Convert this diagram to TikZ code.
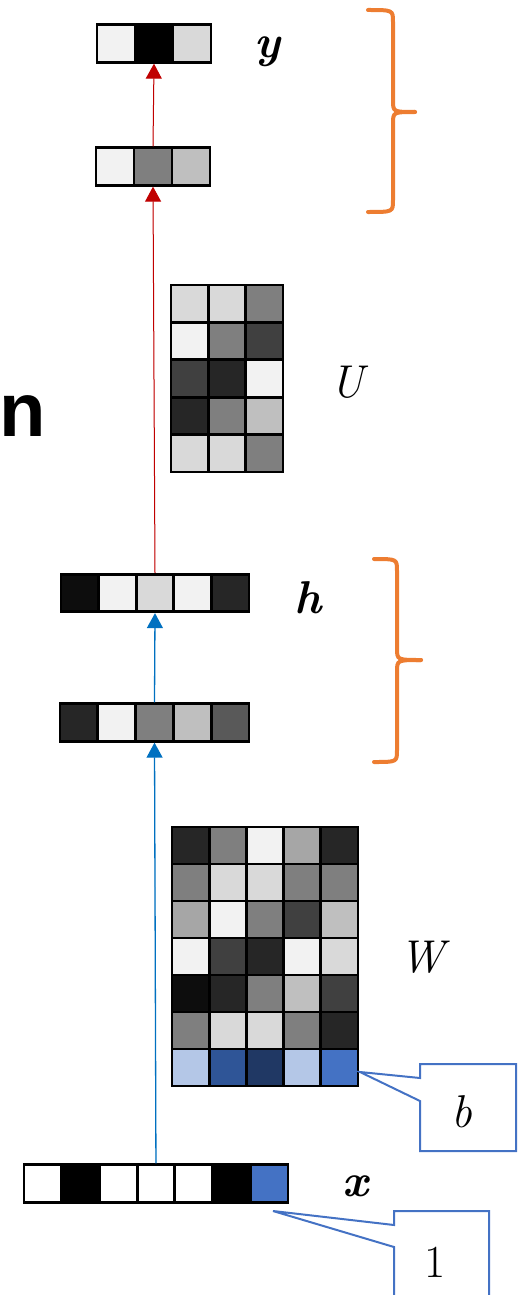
\documentclass[tikz,border=0pt]{standalone}
\usepackage{fontspec}
\newfontfamily\headfont{Liberation Sans}
\usetikzlibrary{arrows.meta}

% grey levels and blue shades of the cells
\definecolor{c0}{HTML}{FFFFFF}
\definecolor{c1}{HTML}{F2F2F2}
\definecolor{c2}{HTML}{D9D9D9}
\definecolor{c3}{HTML}{BFBFBF}
\definecolor{c4}{HTML}{A6A6A6}
\definecolor{c5}{HTML}{7F7F7F}
\definecolor{c6}{HTML}{595959}
\definecolor{c7}{HTML}{404040}
\definecolor{c8}{HTML}{262626}
\definecolor{c9}{HTML}{0D0D0D}
\definecolor{cK}{HTML}{000000}
\definecolor{bA}{HTML}{B4C7E7}
\definecolor{bB}{HTML}{2F5597}
\definecolor{bC}{HTML}{203864}
\definecolor{bD}{HTML}{4472C4}
\definecolor{fwdred}{HTML}{C00000}
\definecolor{fwdblue}{HTML}{0070C0}
\definecolor{braceorange}{HTML}{ED7D31}
\definecolor{calloutblue}{HTML}{4472C4}

\begin{document}
\begin{tikzpicture}[x=1pt,y=-1pt,
  cell/.style={draw=black,line width=2.8pt,inner sep=0pt,minimum width=#1,minimum height=37.5pt},
  cell/.default=37.5pt,
  lbl/.style={inner sep=0pt,font=\fontsize{46}{52}\selectfont\itshape},
  vlbl/.style={lbl,font=\fontsize{46}{52}\selectfont\bfseries\itshape},
  redarrow/.style={draw=fwdred,line width=1pt,-{Triangle[width=16pt,length=15pt]},fill=fwdred},
  bluearrow/.style={draw=fwdblue,line width=1.3pt,-{Triangle[width=16pt,length=15pt]},fill=fwdblue},
  brace/.style={draw=braceorange,line width=4pt,line cap=round},
  callout/.style={draw=calloutblue,line width=2pt,line join=miter}]

\clip (0,0) rectangle (521,1295);

% output vector y
\foreach \c [count=\i] in {c1,cK,c2}
  \node[cell=38pt,fill=\c] (y-\i) at ({97+38*(\i-0.5)},43.5) {};
\node[vlbl] (ylbl) at (267,52) {y};

% output pre-activation
\foreach \c [count=\i] in {c1,c5,c3}
  \node[cell=38pt,fill=\c] (o-\i) at ({96+38*(\i-0.5)},166.5) {};

% matrix U
\foreach \row [count=\r] in {{c2,c2,c5},{c1,c5,c7},{c7,c8,c1},{c8,c5,c3},{c2,c2,c5}}
  \foreach \c [count=\k] in \row
    \node[cell=37.3pt,minimum height=37.4pt,fill=\c] (U-\r-\k) at ({171+37.3*(\k-0.5)},{285+37.4*(\r-0.5)}) {};
\node[lbl] (Ulbl) at (347,382) {U};

% hidden vector h
\foreach \c [count=\i] in {c9,c1,c2,c1,c8}
  \node[cell=37.6pt,fill=\c] (h-\i) at ({61+37.6*(\i-0.5)},593) {};
\node[vlbl] (hlbl) at (308,598) {h};

% hidden pre-activation
\foreach \c [count=\i] in {c8,c1,c5,c3,c6}
  \node[cell=37.8pt,fill=\c] (a-\i) at ({60+37.8*(\i-0.5)},722.5) {};

% matrix W with bias row
\foreach \row [count=\r] in {{c8,c5,c1,c4,c8},{c5,c2,c2,c5,c5},{c4,c1,c5,c7,c3},{c1,c7,c8,c1,c2},{c9,c8,c5,c3,c7},{c5,c2,c2,c5,c8},{bA,bB,bC,bA,bD}}
  \foreach \c [count=\k] in \row
    \node[cell=37.2pt,minimum height=37pt,fill=\c] (W-\r-\k) at ({172+37.2*(\k-0.5)},{827+37*(\r-0.5)}) {};
\node[lbl] (Wlbl) at (422,957) {W};

% input vector x with appended 1
\foreach \c [count=\i] in {c0,cK,c0,c0,c0,cK,bD}
  \node[cell=37.7pt,fill=\c] (x-\i) at ({24+37.7*(\i-0.5)},1183.5) {};
\node[vlbl] (xlbl) at (355,1186) {x};

% forward connections
\draw[bluearrow] (x-4.north) -- (a-3.south);
\draw[bluearrow] (a-3.north) -- (h-3.south);
\draw[redarrow] (h-3.north) -- (o-2.south);
\draw[redarrow] (o-2.north) -- (y-2.south);

% braces grouping the two layers
\draw[brace] (368,10) .. controls (393,10) .. (393,22) -- (393,100)
  .. controls (393,112) .. (415,112);
\draw[brace] (415,112) .. controls (393,112) .. (393,124) -- (393,200)
  .. controls (393,212) .. (368,212);
\draw[brace] (374,559) .. controls (397,559) .. (397,571) -- (397,648)
  .. controls (397,660) .. (421,660);
\draw[brace] (421,660) .. controls (397,660) .. (397,672) -- (397,750)
  .. controls (397,762) .. (374,762);

% callout for the bias row
\coordinate (bTip) at (360,1072);
\draw[callout] (420,1078) -- (420,1064) -- (516,1064) -- (516,1151) -- (420,1151)
  -- (420,1101) -- (bTip) -- cycle;
\node[lbl] (blbl) at (462,1112) {b};

% callout for the constant input
\coordinate (oneTip) at (273,1211);
\draw[callout] (394,1310) -- (394,1247) -- (oneTip) -- (394,1225) -- (394,1211)
  -- (489,1211) -- (489,1310);
\node[lbl,font=\fontsize{46}{52}\selectfont] (onelbl) at (435,1262) {1};

% partial word at the left edge
\node[inner sep=0pt,font=\headfont\bfseries\fontsize{76}{86}\selectfont] (nlbl) at (22.5,416) {n};

\end{tikzpicture}
\end{document}
